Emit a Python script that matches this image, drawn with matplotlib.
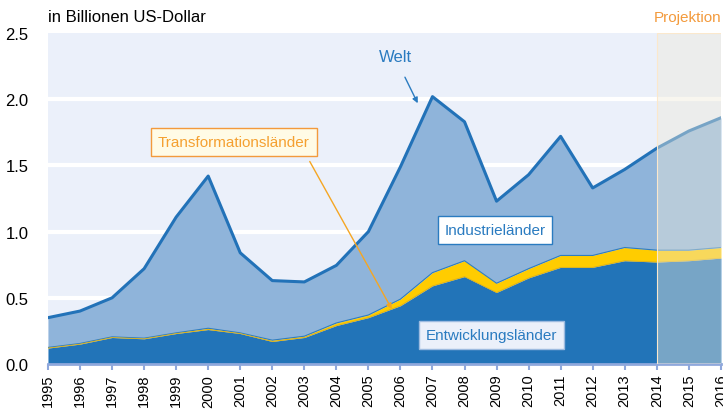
import matplotlib.pyplot as plt
import numpy as np

plt.rcParams['font.family'] = ['Liberation Sans', 'DejaVu Sans']

years = list(range(1995, 2017))
welt = [0.35, 0.40, 0.50, 0.72, 1.11, 1.42, 0.84, 0.63, 0.62, 0.745, 1.00, 1.49,
        2.02, 1.83, 1.23, 1.43, 1.72, 1.33, 1.47, 1.63, 1.76, 1.86]
entwicklung = [0.12, 0.15, 0.20, 0.19, 0.23, 0.26, 0.23, 0.17, 0.20, 0.29, 0.35, 0.44,
               0.59, 0.66, 0.54, 0.65, 0.73, 0.73, 0.78, 0.77, 0.78, 0.80]
# Entwicklung + Transformation (Oberkante gelb)
mit_transformation = [0.125, 0.155, 0.205, 0.195, 0.235, 0.27, 0.235, 0.18, 0.21, 0.31, 0.37, 0.49,
                      0.69, 0.78, 0.61, 0.72, 0.82, 0.82, 0.88, 0.86, 0.86, 0.88]
y_ticks = [0.0, 0.5, 1.0, 1.5, 2.0, 2.5]

x = np.array(years)
welt = np.array(welt)
entw = np.array(entwicklung)
trans_top = np.array(mit_transformation)

fig = plt.figure(figsize=(7.23, 4.10), dpi=100)
ax = fig.add_axes([0.0664, 0.1098, 0.9306, 0.807])
ax.set_facecolor('#EBF0FA')

# white grid lines
for v in y_ticks[1:-1]:
    ax.axhline(v, color='white', lw=3, zorder=1)

ax.fill_between(x, trans_top, welt, color='#8FB4DA', lw=0, zorder=2)
ax.fill_between(x, entw, trans_top, color='#FFCC00', lw=0, zorder=2)
ax.fill_between(x, 0, entw, color='#2274B8', lw=0, zorder=2)
ax.plot(x, trans_top, color='#2F7DC0', lw=0.8, zorder=3)
ax.plot(x, entw, color='#D9B020', lw=0.6, zorder=3)
ax.plot(x, welt, color='#2272B8', lw=2.2, zorder=4)

# projection shading
ax.axvspan(2014, 2016, color='#EFEBDA', alpha=0.42, lw=0, zorder=5)
ax.axvspan(2014, 2016, facecolor='none', edgecolor='#FBE8CC', lw=0.8, zorder=5)

ax.set_xlim(1995, 2016)
ax.set_ylim(0, 2.5)
ax.set_xticks(years)
ax.set_xticklabels([str(y) for y in years], rotation=90, fontsize=10.5)
ax.set_yticks(y_ticks)
ax.set_yticklabels(['%.1f' % v for v in y_ticks], fontsize=12)
ax.tick_params(axis='y', length=0, pad=14)
ax.tick_params(axis='x', length=4, width=1.5, color='#8FA8DC', pad=3)
for s in ['top', 'right', 'left']:
    ax.spines[s].set_visible(False)
ax.spines['bottom'].set_color('#8FA8DC')
ax.spines['bottom'].set_linewidth(2)

fig.text(0.0664, 0.957, 'in Billionen US-Dollar', fontsize=12, va='center', ha='left')
fig.text(0.998, 0.957, 'Projektion', fontsize=11, color='#F39A3C', va='center', ha='right')

ax.annotate('Welt', xy=(2006.54, 1.97), xytext=(2005.83, 2.32), ha='center', va='center',
            fontsize=12, color='#2A7BC0',
            arrowprops=dict(arrowstyle='-|>', color='#2A7BC0', lw=1, shrinkA=8, shrinkB=0,
                            mutation_scale=8))
ax.annotate('', xy=(2005.73, 0.415), xytext=(2003.17, 1.53),
            arrowprops=dict(arrowstyle='-|>', color='#F5A623', lw=1, shrinkA=0, shrinkB=0,
                            mutation_scale=8), zorder=6)
ax.text(2000.8, 1.68, 'Transformationsländer', ha='center', va='center', fontsize=11,
        color='#F5A030', zorder=7,
        bbox=dict(boxstyle='square,pad=0.45', facecolor='#FFFBE6', edgecolor='#F39A3C', lw=1))
ax.text(2008.95, 1.01, 'Industrieländer', ha='center', va='center', fontsize=11,
        color='#2A7BC0', zorder=7,
        bbox=dict(boxstyle='square,pad=0.45', facecolor='white', edgecolor='#2A7BC0', lw=1))
ax.text(2008.85, 0.22, 'Entwicklungsländer', ha='center', va='center', fontsize=11,
        color='#2A7BC0', zorder=7,
        bbox=dict(boxstyle='square,pad=0.45', facecolor='#EBF0FA', edgecolor='#9DBBE0', lw=1))

fig.savefig('out.png', dpi=100)
